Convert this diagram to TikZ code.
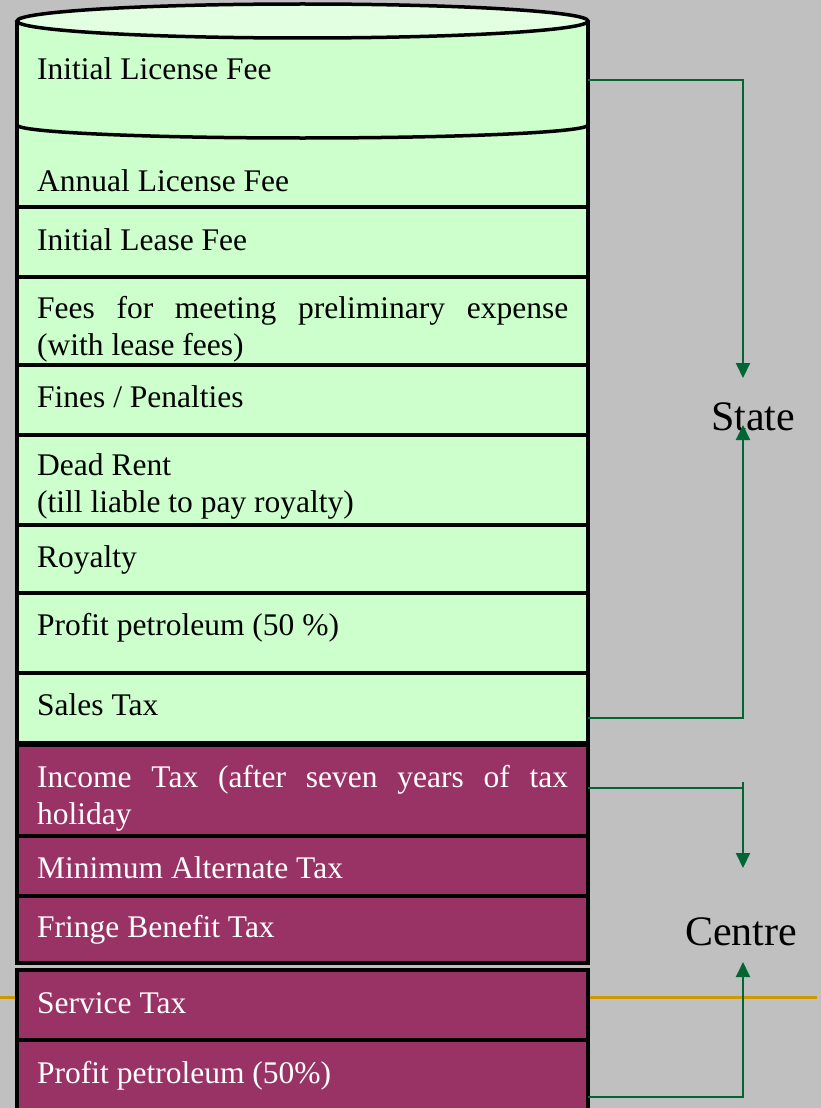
\documentclass[tikz,border=0pt]{standalone}
\usepackage{fontspec}
\setmainfont{Liberation Serif}
\usetikzlibrary{arrows.meta}
\definecolor{bgrey}{RGB}{192,192,192}
\definecolor{mintfill}{RGB}{204,255,204}
\definecolor{minttop}{RGB}{226,255,226}
\definecolor{plum}{RGB}{153,51,102}
\definecolor{linkgreen}{RGB}{0,102,51}
\definecolor{rulegold}{RGB}{204,153,0}
\tikzset{
greenrow/.style={draw=black,line width=3.5pt,fill=mintfill,minimum width=571pt,anchor=north west,inner sep=0pt,outer sep=0pt},
purplerow/.style={draw=black,line width=3.5pt,fill=plum,minimum width=571pt,anchor=north west,inner sep=0pt,outer sep=0pt},
rowtext/.style={anchor=base west,inner sep=0pt,text width=531pt,align=justify,font=\fontsize{31.5}{37}\selectfont},
side/.style={anchor=base,inner sep=0pt,font=\fontsize{42}{50}\selectfont},
link/.style={draw=linkgreen,line width=2pt,-{Triangle[length=15pt,width=14pt]}},
}
\begin{document}
\begin{tikzpicture}[x=1pt,y=-1pt]
\fill[bgrey] (0,0) rectangle (821,1108);
\useasboundingbox (0,0) rectangle (821,1108);
\draw[rulegold,line width=3pt] (0,997) -- (817,997);
% cylinder
\draw[line width=3.5pt,fill=mintfill] (17,21) -- (17,743) -- (588,743) -- (588,21);
\draw[line width=3.5pt,fill=minttop] (302.5,21) ellipse [x radius=285.5,y radius=17];
\draw[line width=3.5pt] (17,125) arc [start angle=180,end angle=0,x radius=285.5,y radius=13];
% rows
\node[greenrow,minimum height=70pt] (ilease) at (17,207) {};
\node[greenrow,minimum height=88pt] (fees) at (17,277) {};
\node[greenrow,minimum height=70pt] (fines) at (17,365) {};
\node[greenrow,minimum height=90pt] (dead) at (17,435) {};
\node[greenrow,minimum height=68pt] (roy) at (17,525) {};
\node[greenrow,minimum height=80pt] (pps) at (17,593) {};
\node[greenrow,minimum height=70pt] (sales) at (17,673) {};
\node[purplerow,minimum height=91pt] (inc) at (17,745) {};
\node[purplerow,minimum height=60pt] (mat) at (17,836) {};
\node[purplerow,minimum height=67pt] (fbt) at (17,896) {};
\node[purplerow,minimum height=70pt] (serv) at (17,970) {};
\node[purplerow,minimum height=75pt] (ppc) at (17,1040) {};
% texts
\node[rowtext] (ilfText) at (37,80) {Initial License Fee};
\node[rowtext] (alfText) at (37,191) {Annual License Fee};
\node[rowtext] (ileaseText) at (37,250) {Initial Lease Fee};
\node[rowtext] (feesText) at (37,318) {Fees for meeting preliminary expense\linebreak (with lease fees)};
\node[rowtext] (finesText) at (37,407) {Fines / Penalties};
\node[rowtext] (deadText) at (37,475) {Dead Rent\\(till liable to pay royalty)};
\node[rowtext] (royText) at (37,567) {Royalty};
\node[rowtext] (ppsText) at (37,635) {Profit petroleum (50 \%)};
\node[rowtext] (salesText) at (37,715) {Sales Tax};
\node[rowtext,white] (incText) at (37,787) {Income Tax (after seven years of tax\linebreak holiday};
\node[rowtext,white] (matText) at (37,878) {Minimum Alternate Tax};
\node[rowtext,white] (fbtText) at (37,937) {Fringe Benefit Tax};
\node[rowtext,white] (servText) at (37,1013) {Service Tax};
\node[rowtext,white] (ppcText) at (37,1083) {Profit petroleum (50\%)};
\node[side] (state) at (753,430) {State};
\node[side] (centre) at (741,945) {Centre};
% connectors
\coordinate (ilfOut) at (588,80);
\coordinate (salesOut) at (588,718);
\coordinate (incOut) at (588,788);
\coordinate (ppcOut) at (588,1097);
\coordinate (stateIn) at (743,378);
\coordinate (stateUp) at (743,425);
\coordinate (centreTop) at (743,782);
\coordinate (centreIn) at (743,868);
\coordinate (centreUp) at (743,962);
\draw[link] (ilfOut) -| (stateIn);
\draw[link] (salesOut) -| (stateUp);
\draw[link,-] (incOut) -- (incOut -| centreTop);
\draw[link] (centreTop) -- (centreIn);
\draw[link] (ppcOut) -| (centreUp);
\end{tikzpicture}
\end{document}
